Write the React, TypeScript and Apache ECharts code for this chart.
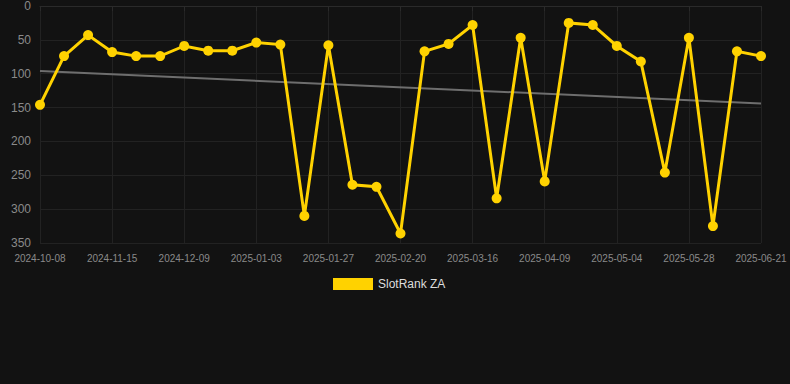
import React, { useEffect, useRef } from "react";
import * as echarts from "echarts";

const dates = [
  "2024-10-08", "2024-10-21", "2024-11-02", "2024-11-15", "2024-11-23", "2024-12-01",
  "2024-12-09", "2024-12-17", "2024-12-26", "2025-01-03", "2025-01-11", "2025-01-19",
  "2025-01-27", "2025-02-04", "2025-02-12", "2025-02-20", "2025-02-28", "2025-03-08",
  "2025-03-16", "2025-03-24", "2025-04-01", "2025-04-09", "2025-04-17", "2025-04-26",
  "2025-05-04", "2025-05-12", "2025-05-20", "2025-05-28", "2025-06-05", "2025-06-13",
  "2025-06-21",
];

const rankZA = [
  146, 74, 43, 68, 74, 74, 59, 66, 66, 54, 57, 310, 58, 264, 267, 336, 67, 56, 28, 284,
  47, 259, 25, 28, 59, 82, 246, 47, 325, 67, 74,
];

const trendStart = 96;
const trendEnd = 144;

const yTicks = { min: 0, max: 350, interval: 50 };

export default function App() {
  const ref = useRef<HTMLDivElement>(null);
  useEffect(() => {
    if (!ref.current) return;
    const chart = echarts.init(ref.current, undefined, { renderer: "svg" });
    const font = "Liberation Sans, Arial, sans-serif";
    chart.setOption({
      animation: false,
      backgroundColor: "#121212",
      textStyle: { fontFamily: font },
      grid: { left: 40, right: 29, top: 6, bottom: 141, containLabel: false },
      legend: {
        data: ["SlotRank ZA"],
        left: 328,
        top: 273,
        icon: "rect",
        itemWidth: 40,
        itemHeight: 12,
        textStyle: { color: "#dddddd", fontSize: 12, fontFamily: font },
      },
      xAxis: {
        type: "category",
        data: dates,
        boundaryGap: false,
        axisLine: { show: true, lineStyle: { color: "#2a2a2a" } },
        axisTick: { show: true, interval: 2, lineStyle: { color: "#2a2a2a" } },
        axisLabel: { interval: 2, color: "#8a8a8a", fontSize: 10, margin: 10, fontFamily: font },
        splitLine: { show: true, interval: 2, lineStyle: { color: "#222222" } },
      },
      yAxis: {
        type: "value",
        inverse: true,
        min: yTicks.min,
        max: yTicks.max,
        interval: yTicks.interval,
        axisLine: { show: false },
        axisTick: { show: false },
        axisLabel: { color: "#8a8a8a", fontSize: 12, margin: 9, fontFamily: font },
        splitLine: { show: true, lineStyle: { color: "#222222" } },
      },
      series: [
        {
          name: "trend",
          type: "line",
          data: [
            [0, trendStart],
            [dates.length - 1, trendEnd],
          ],
          symbol: "none",
          lineStyle: { color: "#6e6e6e", width: 2 },
          itemStyle: { color: "#6e6e6e" },
          silent: true,
          z: 1,
        },
        {
          name: "SlotRank ZA",
          type: "line",
          data: rankZA,
          symbol: "circle",
          symbolSize: 10,
          showAllSymbol: true,
          lineStyle: { color: "#FFD200", width: 3, join: "miter", miterLimit: 10 },
          itemStyle: { color: "#FFD200" },
          z: 3,
        },
      ],
    });
    return () => chart.dispose();
  }, []);
  return (
    <div
      ref={ref}
      style={{ position: "fixed", left: 0, top: 0, width: 790, height: 384, background: "#121212" }}
    />
  );
}
